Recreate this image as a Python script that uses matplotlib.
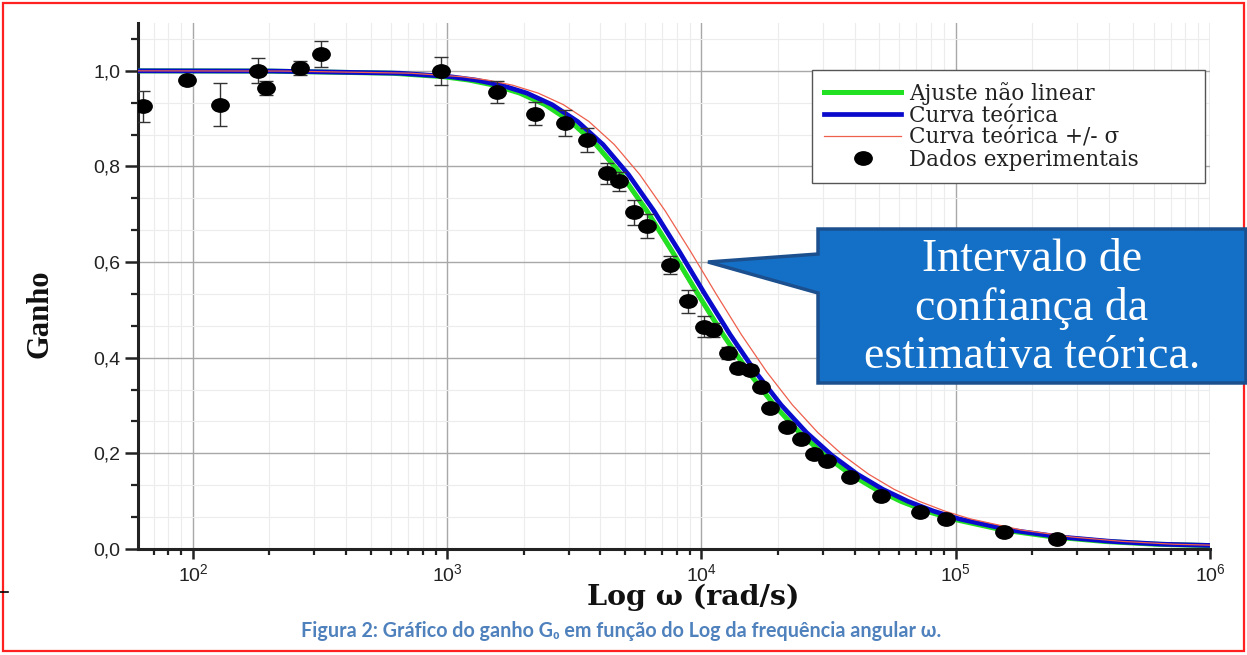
import numpy as np
import matplotlib
matplotlib.use('Agg')
import matplotlib.pyplot as plt
from matplotlib.path import Path
from matplotlib.transforms import Affine2D
from matplotlib.patches import Polygon, Rectangle
from matplotlib.lines import Line2D
from matplotlib.ticker import LogLocator, NullFormatter, AutoMinorLocator, FuncFormatter

omega_exp = [63.5, 95, 128, 180, 193, 263, 320, 944, 1570, 2210, 2900, 3550,
             4250, 4750, 5410, 6100, 7530, 8830, 10200, 11150, 12700, 13900,
             15500, 17200, 18600, 21600, 24700, 27700, 31300, 38300, 50900,
             72100, 91700, 155000, 251000]
gain_exp = [0.926, 0.980, 0.929, 1.000, 0.964, 1.006, 1.036, 1.000, 0.955, 0.910,
            0.891, 0.855, 0.786, 0.769, 0.704, 0.676, 0.594, 0.518, 0.465, 0.458,
            0.410, 0.379, 0.375, 0.339, 0.295, 0.256, 0.230, 0.199, 0.183, 0.150,
            0.110, 0.078, 0.062, 0.036, 0.021]
err_exp = [0.032, 0.008, 0.045, 0.026, 0.015, 0.014, 0.027, 0.029, 0.023, 0.024,
           0.028, 0.025, 0.022, 0.020, 0.026, 0.025, 0.019, 0.024, 0.022, 0.015,
           0.012, 0.010, 0.010, 0.008, 0.006, 0.005, 0.005, 0.004, 0.004, 0.003,
           0.003, 0.002, 0.002, 0.001, 0.001]

# gain levels read along the curves, and where each curve sits at that level
curve_gain = [1.0000, 0.9995, 0.9950, 0.9877, 0.9807, 0.9699, 0.9535, 0.9291,
              0.8940, 0.8457, 0.7830, 0.7071, 0.6220, 0.5336, 0.4481, 0.3699,
              0.3015, 0.2436, 0.1957, 0.1565, 0.1249, 0.0995, 0.0792, 0.0630,
              0.0398, 0.0251, 0.0158, 0.0100, 0.0032]
omega_fit = [48.4, 193, 610, 967, 1217, 1532, 1929, 2428, 3057, 3849, 4845, 6100,
             7680, 9669, 12170, 15320, 19290, 24280, 30570, 38490, 48450, 61000,
             76800, 96690, 153200, 242800, 384900, 610000, 1929000]
omega_theory = [51.6, 205, 650, 1030, 1297, 1633, 2055, 2588, 3258, 4102, 5163,
                6500, 8184, 10300, 12970, 16330, 20550, 25880, 32580, 41020, 51630,
                65000, 81830, 103000, 163300, 258800, 410200, 650000, 2055000]
omega_plus = [57.2, 228, 720, 1141, 1436, 1809, 2277, 2866, 3609, 4543, 5719, 7200,
              9065, 11410, 14360, 18090, 22770, 28660, 36090, 45430, 57190, 72000,
              90650, 114100, 180900, 286600, 454300, 720000, 2277000]
omega_minus = [47.6, 190, 600, 951, 1197, 1507, 1897, 2389, 3007, 3786, 4766, 6000,
               7554, 9510, 11970, 15070, 18970, 23890, 30070, 37860, 47660, 60000,
               75540, 95100, 150700, 238900, 378600, 600000, 1897000]

W, H = 1247, 655
fig = plt.figure(figsize=(W / 100, H / 100), dpi=100)
ax = fig.add_axes([138 / W, 1 - 549 / H, (1210 - 138) / W, (549 - 23) / H])

red = '#ee5f4c'
ax.plot(omega_minus, curve_gain, color=red, lw=0.9, zorder=2)
ax.plot(omega_fit, curve_gain, color='#22e022', lw=3.6, zorder=3)
ax.plot(omega_theory, curve_gain, color='#0a0acc', lw=3.4, zorder=4)
ax.plot(omega_plus, curve_gain, color=red, lw=0.9, zorder=4)

ax.errorbar(omega_exp, gain_exp, yerr=err_exp, fmt='none', ecolor='#333333',
            elinewidth=1, capsize=5, capthick=1, zorder=5)
ellipse = Path.unit_circle().transformed(Affine2D().scale(1.3, 1.0))
ax.plot(omega_exp, gain_exp, ls='none', marker=ellipse, ms=12.5, color='black', zorder=6)

ax.set_xscale('log')
ax.set_xlim(60.8, 1e6)
ax.set_ylim(0, 1.1)
ax.set_yticks([0, 0.2, 0.4, 0.6, 0.8, 1.0])
ax.yaxis.set_minor_locator(AutoMinorLocator(3))
ax.yaxis.set_major_formatter(FuncFormatter(lambda v, p: f'{v:.1f}'.replace('.', ',')))
ax.xaxis.set_major_locator(LogLocator(base=10, numticks=10))
ax.xaxis.set_minor_locator(LogLocator(base=10, subs=np.arange(2, 10), numticks=50))
ax.xaxis.set_minor_formatter(NullFormatter())

for s in ['top', 'right']:
    ax.spines[s].set_visible(False)
for s in ['left', 'bottom']:
    ax.spines[s].set_linewidth(2.2)
    ax.spines[s].set_color('#222222')
ax.tick_params(axis='y', which='major', direction='out', length=9.5, width=1.8, color='#222222', pad=3)
ax.tick_params(axis='y', which='minor', direction='out', length=4.8, width=1.6, color='#222222')
ax.tick_params(axis='x', which='major', direction='out', length=7, width=1.8, color='#222222', pad=3)
ax.tick_params(axis='x', which='minor', direction='out', length=4, width=1.6, color='#222222')
for lab in ax.get_xticklabels() + ax.get_yticklabels():
    lab.set_fontfamily('Liberation Sans')
    lab.set_fontsize(14)
    lab.set_color('#222222')

ax.grid(True, which='major', color='#a8a8a8', lw=1.0, zorder=0)
ax.grid(True, which='minor', color='#ececec', lw=0.8, zorder=0)
ax.set_axisbelow(True)

handles = [Line2D([], [], color='#22e022', lw=3.6),
           Line2D([], [], color='#0a0acc', lw=3.4),
           Line2D([], [], color=red, lw=0.9),
           Line2D([], [], ls='none', marker=ellipse, ms=12.5, color='black')]
labels = ['Ajuste não linear', 'Curva teórica', 'Curva teórica +/- σ', 'Dados experimentais']
leg = ax.legend(handles, labels, loc='upper left',
                bbox_to_anchor=(0.6287, 0.6996, 0.3666, 0.2110), mode='expand',
                borderaxespad=0, prop={'family': 'DejaVu Serif', 'size': 15.5},
                handlelength=3.6, labelspacing=0.0, handletextpad=0.35,
                borderpad=0.55, fancybox=False, framealpha=1, edgecolor='#555555')
leg.get_frame().set_linewidth(1.0)
for t in leg.get_texts():
    t.set_color('#222222')

fig.text(40 / W, 1 - 314 / H, 'Ganho', rotation=90, ha='center', va='center',
         family='Liberation Serif', weight='bold', size=22, color='#111111')
fig.text(693 / W, 1 - 597 / H, 'Log ω (rad/s)', ha='center', va='center',
         family='DejaVu Serif', weight='bold', size=20.5, color='#111111')
fig.text(621 / W, 1 - 631 / H,
         'Figura 2: Gráfico do ganho G₀ em função do Log da frequência angular ω.',
         ha='center', va='center', family=['Lato', 'DejaVu Sans'], weight='bold',
         size=14.2, color='#4f81bd')

# red frame around the picture
fig.patches.append(Rectangle((3 / W, 1 - 651 / H), (1244 - 3) / W, (651 - 3) / H,
                             transform=fig.transFigure, fill=False, edgecolor='#ff2020',
                             lw=1.6, zorder=1))
fig.lines.append(Line2D([0, 8 / W], [1 - 592 / H, 1 - 592 / H], transform=fig.transFigure,
                        color='black', lw=1.2))

# callout box
callout_px = [(818, 229), (1246, 229), (1246, 383), (818, 383), (818, 293), (708, 262), (818, 254)]
fig.patches.append(Polygon([(x / W, 1 - y / H) for x, y in callout_px], closed=True,
                           transform=fig.transFigure, facecolor='#1470c6',
                           edgecolor='#1b4f8e', lw=2.5, zorder=10))
fig.text(1032 / W, 1 - 308 / H, 'Intervalo de\nconfiança da\nestimativa teórica.',
         ha='center', va='center', family='Liberation Serif', size=33, color='white',
         linespacing=1.17, zorder=11)

fig.savefig('out.png', dpi=100)
